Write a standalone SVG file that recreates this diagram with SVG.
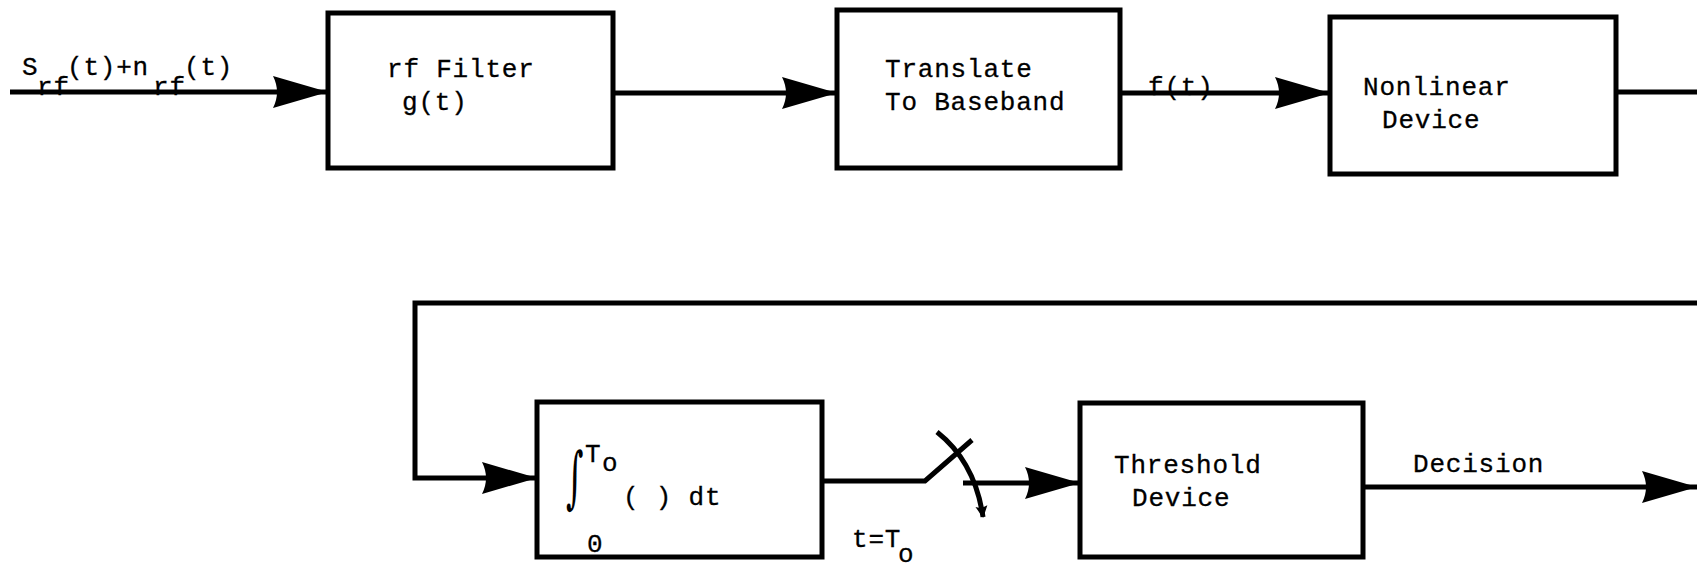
<svg xmlns="http://www.w3.org/2000/svg" width="1697" height="571" viewBox="0 0 1697 571">
<style>
.box{fill:none;stroke:#000;stroke-width:5;stroke-linejoin:miter}
.ln{fill:none;stroke:#000;stroke-width:5;stroke-linejoin:miter}
.t{font-family:"Liberation Mono","DejaVu Sans Mono",monospace;font-size:26px;letter-spacing:0.8px;fill:#000;stroke:#000;stroke-width:0.3}
</style>
<defs>
<marker id="ah" markerUnits="userSpaceOnUse" markerWidth="58" markerHeight="36" viewBox="0 0 58 36" refX="57" refY="18" orient="auto">
<path d="M57,18 L2,2 Q10,18 2,34 Z" fill="#000"/>
</marker>
<marker id="sm" markerUnits="userSpaceOnUse" markerWidth="14" markerHeight="14" viewBox="0 0 14 14" refX="12" refY="7" orient="auto">
<path d="M13,7 L1,1 Q4,7 1,13 Z" fill="#000"/>
</marker>
</defs>
<rect width="1697" height="571" fill="#fff"/>
<g id="connectors">
<path class="ln" d="M10,92 H328" marker-end="url(#ah)"/>
<path class="ln" d="M613,93 H837" marker-end="url(#ah)"/>
<path class="ln" d="M1120,93 H1330" marker-end="url(#ah)"/>
<path class="ln" d="M1616,92 H1697"/>
<path class="ln" d="M1697,303 H415 V478 H537" marker-end="url(#ah)"/>
<path class="ln" d="M822,481 H925 L972,440"/>
<path class="ln" d="M937,432 Q975,462 983,517" marker-end="url(#sm)"/>
<path class="ln" d="M963,483 H1080" marker-end="url(#ah)"/>
<path class="ln" d="M1363,487 H1697" marker-end="url(#ah)"/>
</g>
<g id="input-label">
<text class="t" x="22" y="75">S</text>
<text class="t" x="37" y="95">rf</text>
<text class="t" x="67" y="75">(t)+n</text>
<text class="t" x="153" y="95">rf</text>
<text class="t" x="184" y="75">(t)</text>
</g>
<g id="rf-filter">
<rect class="box" x="328" y="13" width="285" height="155"/>
<text class="t" x="387" y="77">rf Filter</text>
<text class="t" x="402" y="110">g(t)</text>
</g>
<g id="translate">
<rect class="box" x="837" y="10" width="283" height="158"/>
<text class="t" x="885" y="77">Translate</text>
<text class="t" x="885" y="110">To Baseband</text>
</g>
<g id="ft-label">
<text class="t" x="1148" y="95">f(t)</text>
</g>
<g id="nonlinear">
<rect class="box" x="1330" y="17" width="286" height="157"/>
<text class="t" x="1363" y="95">Nonlinear</text>
<text class="t" x="1382" y="128">Device</text>
</g>
<g id="integrator">
<rect class="box" x="537" y="402" width="285" height="155"/>
<text transform="translate(566,500) scale(0.7,1.4)" style="font-family:'DejaVu Serif',serif;font-size:48px;fill:#000">∫</text>
<text class="t" x="585" y="462">T</text>
<text class="t" x="602" y="471">o</text>
<text class="t" x="623" y="505">( ) dt</text>
<text class="t" x="587" y="552">0</text>
</g>
<g id="switch-label">
<text class="t" x="852" y="547">t=T</text>
<text class="t" x="898" y="562">o</text>
</g>
<g id="threshold">
<rect class="box" x="1080" y="403" width="283" height="154"/>
<text class="t" x="1114" y="473">Threshold</text>
<text class="t" x="1132" y="506">Device</text>
</g>
<g id="decision-label">
<text class="t" x="1413" y="472">Decision</text>
</g>
</svg>
